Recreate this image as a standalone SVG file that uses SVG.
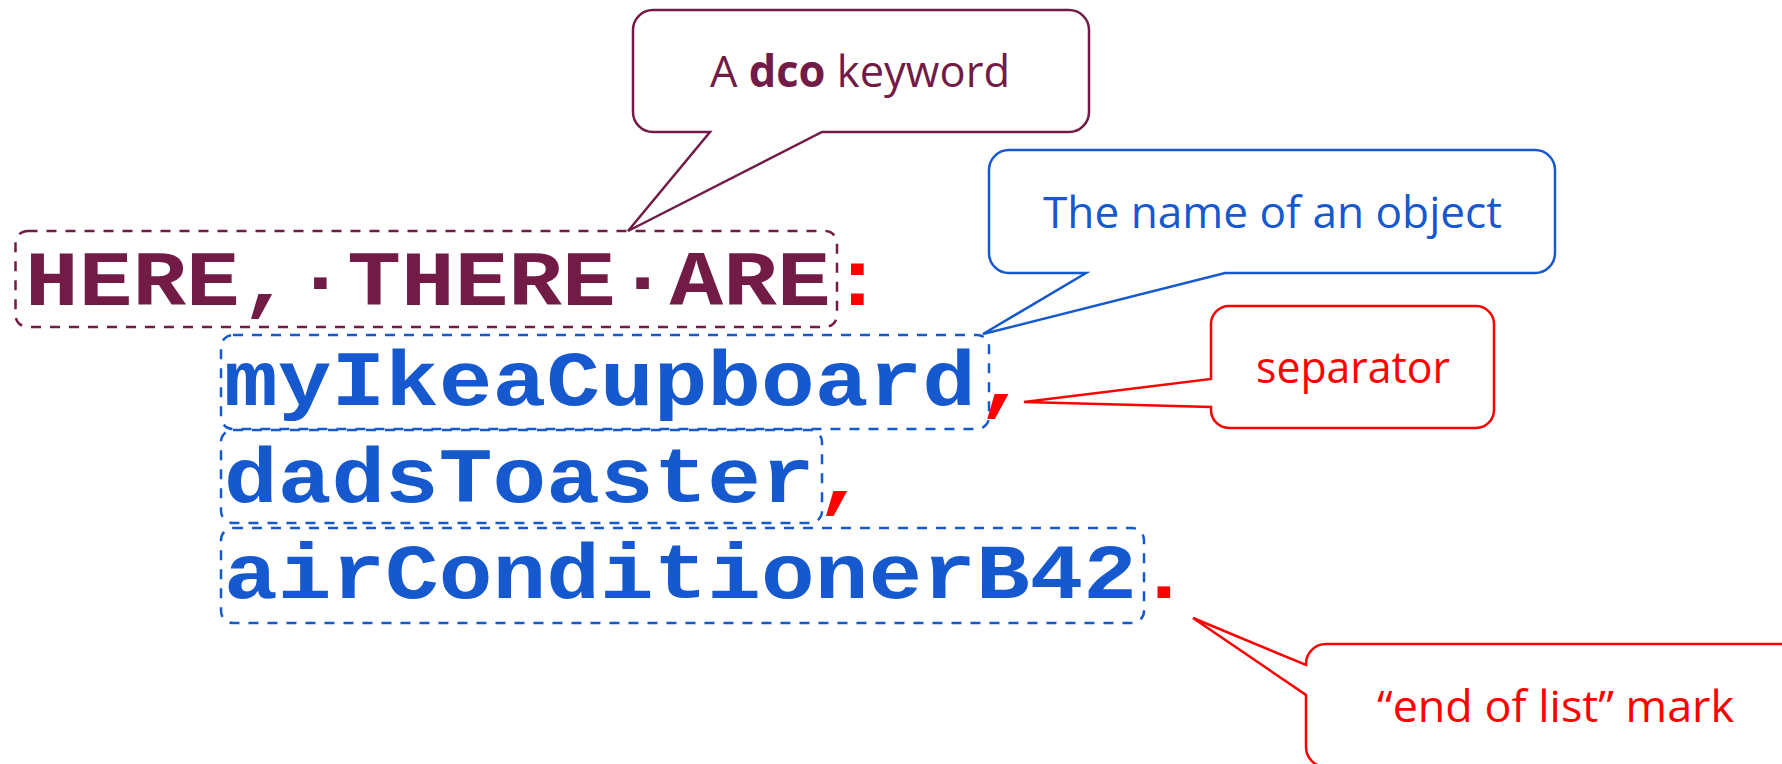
<svg xmlns="http://www.w3.org/2000/svg" width="1782" height="764" viewBox="0 0 1782 764">
<style>
.code{font-family:"Liberation Mono","DejaVu Sans Mono",monospace;font-weight:bold;font-size:89.5px}
.kw{fill:#711B46}
.nm{fill:#1659CF}
.pn{fill:#FF0000}
.lbl{font-family:"Open Sans","Noto Sans",sans-serif;font-size:44px}
.call{fill:#FFFFFF;stroke-width:2.5;stroke-linejoin:miter}
.dash{fill:none;stroke-width:2.5;stroke-dasharray:10 9}
</style>
<rect width="1782" height="764" fill="#FFFFFF"/>
<g id="connectors"/>
<g id="callout-keyword">
<path class="call" stroke="#711B46" d="M653,10 H1069 A20,20 0 0 1 1089,30 V112 A20,20 0 0 1 1069,132 H822 L628,231 L710,132 H653 A20,20 0 0 1 633,112 V30 A20,20 0 0 1 653,10 Z"/>
<text class="lbl" fill="#711B46" x="710" y="87" textLength="300" lengthAdjust="spacingAndGlyphs">A <tspan font-weight="bold">dco</tspan> keyword</text>
</g>
<g id="callout-name">
<path class="call" stroke="#1659CF" d="M1009,150 H1535 A20,20 0 0 1 1555,170 V253 A20,20 0 0 1 1535,273 H1225 L983,334 L1086,273 H1009 A20,20 0 0 1 989,253 V170 A20,20 0 0 1 1009,150 Z"/>
<text class="lbl" fill="#1659CF" x="1043" y="228" textLength="459" lengthAdjust="spacingAndGlyphs">The name of an object</text>
</g>
<g id="callout-separator">
<path class="call" stroke="#FF0000" d="M1229,306 H1476 A18,18 0 0 1 1494,324 V410 A18,18 0 0 1 1476,428 H1229 A18,18 0 0 1 1211,410 V407 L1024,402 L1211,379 V324 A18,18 0 0 1 1229,306 Z"/>
<text class="lbl" fill="#FF0000" x="1256" y="383" textLength="194" lengthAdjust="spacingAndGlyphs">separator</text>
</g>
<g id="callout-end">
<path class="call" stroke="#FF0000" d="M1326,644 H1800 V767 H1326 A20,20 0 0 1 1306,747 V695 L1193,618 L1306,665 V664 A20,20 0 0 1 1326,644 Z"/>
<text class="lbl" fill="#FF0000" x="1377" y="722" textLength="357" lengthAdjust="spacingAndGlyphs">“end of list” mark</text>
</g>
<g id="keyword">
<rect class="dash" stroke="#711B46" x="15.5" y="231" width="821.5" height="96" rx="12"/>
<text class="code" transform="translate(25,305) scale(1,0.86)"><tspan class="kw">HERE,·THERE·ARE</tspan><tspan class="pn">:</tspan></text>
</g>
<g id="name-myIkeaCupboard">
<rect class="dash" stroke="#1659CF" x="221" y="335" width="768" height="94" rx="12"/>
<text class="code" transform="translate(224,405) scale(1,0.86)"><tspan class="nm">myIkeaCupboard</tspan><tspan class="pn">,</tspan></text>
</g>
<g id="name-dadsToaster">
<rect class="dash" stroke="#1659CF" x="221" y="430" width="601" height="93" rx="12"/>
<text class="code" transform="translate(224,502) scale(1,0.86)"><tspan class="nm">dadsToaster</tspan><tspan class="pn">,</tspan></text>
</g>
<g id="name-airConditionerB42">
<rect class="dash" stroke="#1659CF" x="221" y="528" width="923" height="95" rx="12"/>
<text class="code" transform="translate(224,598) scale(1,0.86)"><tspan class="nm">airConditionerB42</tspan><tspan class="pn">.</tspan></text>
</g>
</svg>
